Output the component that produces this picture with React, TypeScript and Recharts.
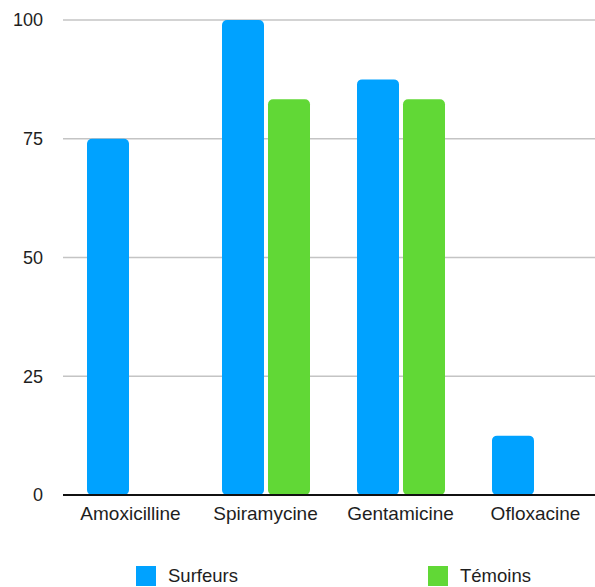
import {
  BarChart,
  Bar,
  XAxis,
  YAxis,
  CartesianGrid,
  Legend,
} from "recharts";

const categories = ["Amoxicilline", "Spiramycine", "Gentamicine", "Ofloxacine"];
const surfeurs = [75, 100, 87.5, 12.5];
const temoins = [0, 83.3, 83.3, 0];
const yTicks = [0, 25, 50, 75, 100];

const SERIES = [
  { key: "surfeurs", name: "Surfeurs", color: "#00A2FF" },
  { key: "temoins", name: "Témoins", color: "#61D836" },
];

const data = categories.map((name, i) => ({
  name,
  surfeurs: surfeurs[i],
  temoins: temoins[i],
}));

const FONT = '"Liberation Sans", Arial, Helvetica, sans-serif';
const Y_TICK = { fontSize: 18, fill: "#1e1e1e", fontFamily: FONT };
const X_TICK = { fontSize: 19, fill: "#1e1e1e", fontFamily: FONT };
const LEGEND_LEFT = [136, 428];

function LegendContent() {
  return (
    <div style={{ position: "relative", height: 22, width: 595, fontFamily: FONT, fontSize: 18.5, color: "#1e1e1e" }}>
      {SERIES.map((s, i) => (
        <div
          key={s.key}
          style={{ position: "absolute", left: LEGEND_LEFT[i], top: 0, display: "flex", alignItems: "center", height: 20 }}
        >
          <span style={{ width: 20, height: 20, background: s.color, display: "inline-block" }} />
          <span style={{ marginLeft: 12 }}>{s.name}</span>
        </div>
      ))}
    </div>
  );
}

export default function App() {
  return (
    <div
      style={{
        position: "absolute",
        left: 0,
        top: 0,
        width: 595,
        height: 587,
        overflow: "hidden",
        background: "#fff",
      }}
    >
      <BarChart
        width={610}
        height={600}
        data={data}
        margin={{ top: 20, right: 7, left: 0, bottom: 0 }}
        barSize={42}
        barGap={4}
      >
        <CartesianGrid horizontal vertical={false} stroke="#c4c4c4" strokeWidth={1.5} />
        <XAxis
          dataKey="name"
          tick={X_TICK}
          tickLine={false}
          tickSize={0}
          tickMargin={12}
          axisLine={{ stroke: "#111", strokeWidth: 2 }}
          height={83}
          interval={0}
        />
        <YAxis
          domain={[0, 100]}
          ticks={yTicks}
          width={63}
          tick={Y_TICK}
          tickLine={false}
          tickSize={0}
          tickMargin={20}
          axisLine={false}
        />
        <Legend
          verticalAlign="bottom"
          content={() => <LegendContent />}
          wrapperStyle={{ top: 566, left: 0, width: 595 }}
        />
        {SERIES.map((s) => (
          <Bar
            key={s.key}
            dataKey={s.key}
            name={s.name}
            fill={s.color}
            radius={5}
            isAnimationActive={false}
          />
        ))}
      </BarChart>
    </div>
  );
}
